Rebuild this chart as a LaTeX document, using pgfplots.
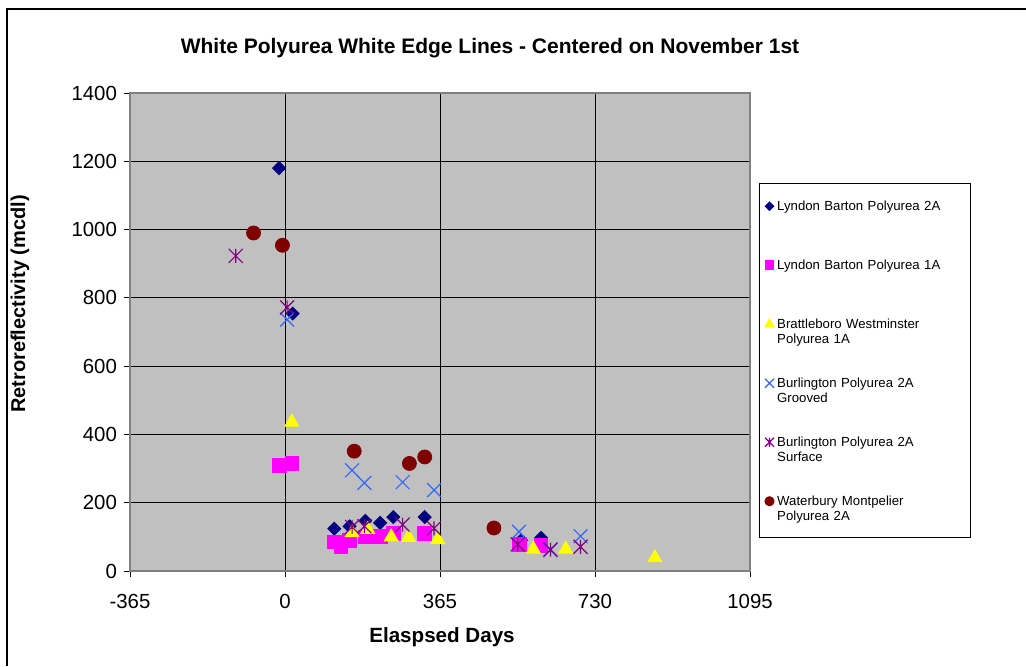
\documentclass[border=0pt]{standalone}
\usepackage{fontspec}
\setmainfont{Liberation Sans}
\usepackage{pgfplots}
\pgfplotsset{compat=1.18}

\definecolor{plotbg}{HTML}{C0C0C0}
\definecolor{framegray}{HTML}{808080}
\definecolor{lbnavy}{HTML}{000080}
\definecolor{lbmag}{HTML}{FF00FF}
\definecolor{bwyel}{HTML}{FFFF00}
\definecolor{bgblue}{HTML}{3366FF}
\definecolor{bspurple}{HTML}{800080}
\definecolor{wmred}{HTML}{800000}

% Excel style star: an x with a vertical bar
\pgfdeclareplotmark{xstar}{%
  \pgfpathmoveto{\pgfqpoint{-\pgfplotmarksize}{-\pgfplotmarksize}}%
  \pgfpathlineto{\pgfqpoint{\pgfplotmarksize}{\pgfplotmarksize}}%
  \pgfpathmoveto{\pgfqpoint{-\pgfplotmarksize}{\pgfplotmarksize}}%
  \pgfpathlineto{\pgfqpoint{\pgfplotmarksize}{-\pgfplotmarksize}}%
  \pgfpathmoveto{\pgfqpoint{0pt}{-\pgfplotmarksize}}%
  \pgfpathlineto{\pgfqpoint{0pt}{\pgfplotmarksize}}%
  \pgfusepathqstroke}

\begin{document}
\begin{tikzpicture}[x=0.5pt,y=0.5pt]
\useasboundingbox (0,0) rectangle (1026,666);
\draw[line width=0.6pt] (7,0) -- (7,657) -- (1026,657);

\node[anchor=base, font=\bfseries\fontsize{10.5}{12}\selectfont] at (490,613)
  {White Polyurea White Edge Lines - Centered on November 1st};
\node[anchor=base, font=\bfseries\fontsize{10.3}{12}\selectfont] at (442,24)
  {Elaspsed Days};
\node[anchor=base, rotate=90, font=\bfseries\fontsize{10}{12}\selectfont] at (25,362)
  {Retroreflectivity (mcdl)};

\begin{axis}[
  at={(65pt,47.5pt)}, anchor=south west,
  scale only axis,
  width=310pt, height=239pt,
  xmin=-365, xmax=1095,
  ymin=0, ymax=1400,
  xtick={-365,0,365,730,1095},
  ytick={0,200,400,600,800,1000,1200,1400},
  axis background/.style={fill=plotbg},
  axis line style={draw=framegray, line width=1pt},
  grid=major,
  major grid style={black, line width=0.5pt},
  tick align=outside,
  major tick length=3pt,
  tick style={black, line width=0.5pt},
  xtick pos=bottom, ytick pos=left,
  ticklabel style={font=\fontsize{10.2}{12}\selectfont},
  xticklabel style={yshift=-5pt},
  /pgf/number format/assume math mode=true,
  /pgf/number format/1000 sep={},
  every axis plot/.append style={only marks,
    legend image code/.code={%
      \path[draw=none, fill=none] (-4.85pt,2.3pt) rectangle (3.85pt,2.31pt);
      \draw[##1, only marks, /tikz/every mark/.append style={scale=0.65}]
        plot coordinates {(0pt,2.3pt)};}},
  legend style={at={(1.015,0.811)}, anchor=north west,
    draw=black, line width=0.5pt, fill=white,
    inner sep=0pt, row sep=0pt, column sep=0pt,
    cells={anchor=base west},
    nodes={inner sep=0pt, text depth=, text height=, text width=96.65pt, align=left,
      font=\fontsize{6.6}{7.5}\selectfont}},
]
\addplot[mark=square*, mark size=2.3pt, mark options={rotate=45, draw=lbnavy, fill=lbnavy}]
  coordinates {(-14,1180) (18,754) (116,124) (152,131) (189,147) (224,141)
    (255,158) (329,158) (556,90) (603,97)};
\addlegendentry{\rule{0pt}{13.5pt}Lyndon Barton Polyurea 2A\rule[-24pt]{0pt}{24pt}}

\addplot[mark=square*, mark size=3.4pt, mark options={draw=lbmag, fill=lbmag}]
  coordinates {(-13,310) (16,315) (116,85) (132,71) (152,90) (189,100)
    (224,102) (255,110) (328,110) (552,78) (603,75)};
\addlegendentry{\rule{0pt}{5.5pt}Lyndon Barton Polyurea 1A\rule[-24pt]{0pt}{24pt}}

\addplot[mark=triangle*, mark size=4pt, mark options={draw=bwyel, fill=bwyel}]
  coordinates {(16,436) (158,112) (195,122) (250,100) (291,98) (360,92)
    (585,64) (661,64) (871,39)};
\addlegendentry{\rule{0pt}{5.5pt}Brattleboro Westminster\\Polyurea 1A\rule[-16.5pt]{0pt}{16.5pt}}

\addplot[mark=x, mark size=4.9pt, mark options={draw=bgblue, line width=0.6pt}]
  coordinates {(5,736) (158,295) (187,258) (277,260) (351,237) (551,115)
    (625,61) (696,102)};
\addlegendentry{\rule{0pt}{5.5pt}Burlington Polyurea 2A\\Grooved\rule[-16.5pt]{0pt}{16.5pt}}

\addplot[mark=xstar, mark size=3.5pt, mark options={draw=bspurple, line width=0.6pt}]
  coordinates {(-116,923) (5,772) (158,129) (187,131) (277,136) (351,125)
    (548,78) (625,63) (696,71)};
\addlegendentry{\rule{0pt}{5.5pt}Burlington Polyurea 2A\\Surface\rule[-16.5pt]{0pt}{16.5pt}}

\addplot[mark=*, mark size=3.5pt, mark options={draw=wmred, fill=wmred}]
  coordinates {(-74,990) (-6,954) (163,351) (293,315) (329,334) (492,126)};
\addlegendentry{\rule{0pt}{5.5pt}Waterbury Montpelier\\Polyurea 2A\rule[-8.35pt]{0pt}{8.35pt}}
\end{axis}
\end{tikzpicture}
\end{document}
